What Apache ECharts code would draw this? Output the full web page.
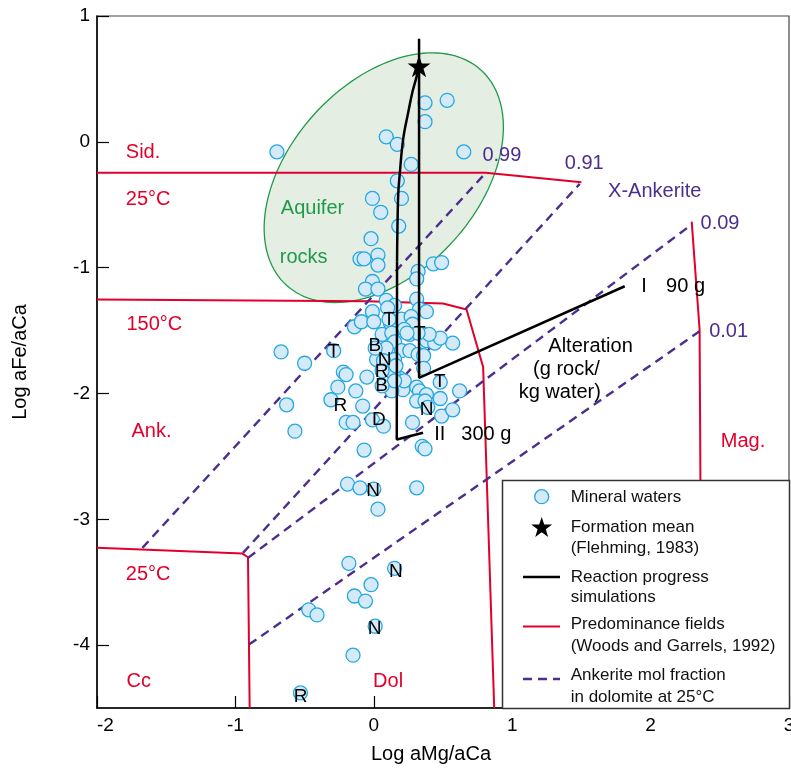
<!DOCTYPE html>
<html><head><meta charset="utf-8">
<script src="https://cdn.jsdelivr.net/npm/echarts@6/dist/echarts.min.js"></script>
<style>html,body{margin:0;padding:0;background:#fff}#c{width:791px;height:770px}</style>
</head><body><div id="c"></div><script>
// ---------- data (data units: x = Log aMg/aCa, y = Log aFe/aCa) ----------
const xTicks = [-2, -1, 0, 1, 2, 3];
const yTicks = [-4, -3, -2, -1, 0, 1];

const mineralWaters = [
  [0.37,0.31],[0.53,0.33],[0.37,0.16],[0.09,0.04],[0.17,-0.02],[-0.70,-0.08],[0.65,-0.08],[0.27,-0.18],
  [0.17,-0.31],[-0.01,-0.45],[0.20,-0.45],[0.05,-0.56],[0.18,-0.67],[-0.02,-0.77],[-0.10,-0.93],[-0.07,-0.93],
  [0.03,-0.90],[0.03,-0.98],[-0.01,-1.11],[-0.06,-1.17],[0.03,-1.17],[0.32,-1.03],[0.31,-1.09],[0.43,-0.97],
  [0.49,-0.96],[0.09,-1.26],[0.31,-1.25],[0.15,-1.30],[0.10,-1.32],[0.33,-1.33],[0.38,-1.35],[-0.01,-1.35],
  [-0.14,-1.47],[-0.09,-1.43],[0.00,-1.43],[0.12,-1.44],[0.20,-1.41],[0.27,-1.39],[0.28,-1.45],[0.22,-1.49],
  [0.06,-1.53],[0.13,-1.52],[0.26,-1.53],[0.36,-1.53],[0.38,-1.58],[0.44,-1.60],[0.57,-1.60],[0.15,-1.59],
  [0.09,-1.64],[0.20,-1.66],[0.26,-1.66],[0.32,-1.69],[0.36,-1.70],[0.02,-1.73],[0.15,-1.73],[0.36,-1.80],
  [-0.22,-1.83],[-0.05,-1.87],[0.19,-1.88],[-0.67,-1.67],[-0.50,-1.76],[-0.29,-1.66],[-0.20,-1.85],[-0.26,-1.95],
  [-0.13,-1.98],[-0.31,-2.05],[-0.63,-2.09],[-0.08,-2.10],[-0.20,-2.23],[-0.15,-2.23],[-0.01,-2.21],[0.07,-2.26],
  [-0.57,-2.30],[-0.07,-2.45],[0.28,-2.23],[0.35,-2.42],[0.37,-2.44],[0.49,-2.18],[0.57,-2.13],[0.48,-2.04],
  [0.62,-1.98],[0.21,-1.97],[0.31,-1.95],[0.33,-1.98],[0.38,-2.01],[0.31,-2.06],[0.37,-2.06],[0.13,-1.98],
  [0.22,-1.90],[0.14,-1.84],[0.39,-2.11],[0.07,-1.74],[0.01,-1.64],[0.48,-1.56],[0.40,-1.53],[0.32,-1.52],
  [0.24,-1.52],[0.16,-1.78],[0.15,-1.90],[0.11,-1.41],[0.06,-1.82],[0.06,-1.94],[0.48,-1.91],
  [-0.19,-2.72],[-0.10,-2.75],[0.00,-2.76],[0.31,-2.75],[0.03,-2.92],[-0.18,-3.35],[0.15,-3.39],[-0.02,-3.52],
  [-0.14,-3.61],[-0.06,-3.65],[-0.47,-3.72],[-0.41,-3.76],[0.01,-3.85],[-0.15,-4.08],[-0.53,-4.38]
];
const formationMean = [[0.327, 0.601]];

// Reaction progress simulations
const reactionI = [[0.327,0.82],[0.327,-1.876],[1.813,-1.148]];
const reactionIIcurve = [[0.327,0.60],[0.31,0.52],[0.28,0.40],[0.248,0.23],[0.212,0.02],[0.188,-0.25],[0.176,-0.43],[0.168,-0.95]];
const reactionIIlow = [[0.168,-0.95],[0.166,-2.366],[0.356,-2.313]];

// Predominance fields (Woods and Garrels, 1992)
const sid25 = [[-2,-0.246],[0.809,-0.246],[1.50,-0.321]];
const ank150 = [[-2,-1.254],[-0.05,-1.267],[0.50,-1.285],[0.67,-1.333],[0.79,-1.79],[0.87,-4.5]];
const mag = [[2.297,-0.634],[2.354,-1.492],[2.369,-4.5]];
const cc25 = [[-2,-3.227],[-0.949,-3.273],[-0.909,-3.302],[-0.897,-4.5]];

// Ankerite mol fraction in dolomite at 25 C
const ank099 = [[-1.672,-3.227],[0.809,-0.246]];
const ank091 = [[-0.945,-3.267],[1.488,-0.334]];
const ank009 = [[-0.909,-3.307],[2.297,-0.657]];
const ank001 = [[-0.902,-3.996],[2.354,-1.506]];

// Aquifer rocks field (centre in data units; semi-axes in x-units; tilt in degrees)
const aquiferCentre = [[0.072, -0.285]];
const aquiferAxes = [1.048, 0.68];
const aquiferTilt = 48;

// Text annotations [text, x, y]
const redLabels = [['Sid.',-1.792,-0.087],['25°C',-1.792,-0.459],['150°C',-1.787,-1.452],['Ank.',-1.751,-2.30],
  ['25°C',-1.792,-3.44],['Cc',-1.787,-4.288],['Dol',-0.005,-4.288],['Mag.',2.507,-2.38]];
const greenLabels = [['Aquifer',-0.672,-0.53],['rocks',-0.679,-0.92]];
const purpleLabels = [['0.99',0.785,-0.105],['0.91',1.38,-0.174],['X-Ankerite',1.693,-0.397],['0.09',2.361,-0.649],['0.01',2.423,-1.51]];
const blackLeftLabels = [['I',1.933,-1.146],['90 g',2.112,-1.146],['II',0.437,-2.33],['300 g',0.632,-2.33]];
const blackCenterLabels = [['Alteration',1.566,-1.623],['(g rock/',1.392,-1.81],['kg water)',1.344,-1.994]];
const sampleCodes = [['T',-0.29,-1.665],['T',0.11,-1.413],['T',0.332,-1.526],['B',0.007,-1.619],['N',0.079,-1.73],
  ['R',0.056,-1.824],['B',0.056,-1.937],['R',-0.241,-2.094],['D',0.036,-2.207],['N',0.381,-2.128],['T',0.477,-1.911],
  ['N',-0.005,-2.777],['N',0.159,-3.421],['N',0.005,-3.871],['R',-0.529,-4.412]];

// ---------- styles ----------
const FONT = '"Liberation Sans", Arial, sans-serif';
const RED = '#e2002b', PURPLE = '#4b2e8e', GREEN = '#1f9a4a', GREENFILL = '#e4eee3';
const DOTFILL = '#d4eaf9', DOTSTROKE = '#25a7e0';
const STAR = 'path://M0,-100 L22.5,-30.9 L95.1,-30.9 L36.3,11.8 L58.8,80.9 L0,38.2 L-58.8,80.9 L-36.3,11.8 L-95.1,-30.9 L-22.5,-30.9 Z';

function lineSeries(data, color, width, dash, z, smooth) {
  return { type: 'line', data, symbol: 'none', smooth: smooth || false, silent: true, z,
    lineStyle: { color, width, type: dash ? [9, 6] : 'solid', cap: 'butt' }, animation: false };
}
function textSeries(items, color, align, size, z) {
  return { type: 'custom', silent: true, z, animation: false,
    data: items.map(d => [d[1], d[2]]), encode: { x: 0, y: 1 },
    renderItem: (params, api) => {
      const p = api.coord([api.value(0), api.value(1)]);
      return { type: 'text', x: p[0], y: p[1],
        style: { text: items[params.dataIndex][0], fill: color, font: size + 'px ' + FONT, align, verticalAlign: 'middle' } };
    } };
}

const chart = echarts.init(document.getElementById('c'), null, { renderer: 'canvas' });

// legend star
const starPts = [];
for (let i = 0; i < 10; i++) {
  const r = i % 2 === 0 ? 11 : 4.3, a = -Math.PI / 2 + i * Math.PI / 5;
  starPts.push([541.7 + r * Math.cos(a), 528 + r * Math.sin(a)]);
}
const legendTxt = (t, y) => ({ type: 'text', x: 570.7, y, z: 101,
  style: { text: t, font: '17px ' + FONT, fill: '#111', verticalAlign: 'middle', align: 'left' } });

chart.setOption({
  animation: false,
  grid: { left: 97, right: 2, top: 16, bottom: 62, show: true, containLabel: false, outerBoundsMode: 'none',
    borderColor: '#444', borderWidth: 1.2, backgroundColor: 'transparent' },
  xAxis: { type: 'value', min: -2, max: 3, interval: 1, splitLine: { show: false },
    axisLine: { show: true, onZero: false, lineStyle: { color: '#000', width: 1.5 } },
    axisTick: { show: true, inside: true, length: 12, lineStyle: { color: '#000', width: 1.2 } },
    axisLabel: { fontSize: 19, fontFamily: FONT, color: '#000', margin: 8, alignMinLabel: 'left', formatter: v => xTicks.includes(v) ? String(v) : '' } },
  yAxis: { type: 'value', min: -4.5, max: 1, splitLine: { show: false },
    axisLine: { show: true, onZero: false, lineStyle: { color: '#000', width: 1.5 } },
    axisTick: { show: true, inside: true, length: 12, customValues: yTicks, lineStyle: { color: '#000', width: 1.2 } },
    axisLabel: { fontSize: 19, fontFamily: FONT, color: '#000', margin: 7, customValues: yTicks } },
  series: [
    { type: 'custom', z: 1, silent: true, data: aquiferCentre, encode: { x: 0, y: 1 },
      renderItem: (params, api) => {
        const c = api.coord([api.value(0), api.value(1)]);
        const s = api.size([1, 1]);
        const a = aquiferAxes[0] * s[0], b = aquiferAxes[1] * s[0];
        const t = aquiferTilt * Math.PI / 180;
        const pts = [];
        for (let i = 0; i < 144; i++) {
          const th = i / 144 * 2 * Math.PI, ex = a * Math.cos(th), ey = b * Math.sin(th);
          pts.push([c[0] + ex * Math.cos(t) - ey * Math.sin(t), c[1] - ex * Math.sin(t) - ey * Math.cos(t)]);
        }
        return { type: 'polygon', shape: { points: pts }, style: { fill: GREENFILL, stroke: GREEN, lineWidth: 1.3 } };
      } },
    lineSeries(sid25, RED, 2, false, 2),
    lineSeries(ank150, RED, 2, false, 2),
    lineSeries(mag, RED, 2, false, 2),
    lineSeries(cc25, RED, 2, false, 2),
    lineSeries(ank099, PURPLE, 2.4, true, 3),
    lineSeries(ank091, PURPLE, 2.4, true, 3),
    lineSeries(ank009, PURPLE, 2.4, true, 3),
    lineSeries(ank001, PURPLE, 2.4, true, 3),
    { type: 'scatter', data: mineralWaters, z: 4, symbol: 'circle', symbolSize: 14, silent: true,
      itemStyle: { color: DOTFILL, borderColor: DOTSTROKE, borderWidth: 1.3, opacity: 1 } },
    lineSeries(reactionI, '#000', 2.5, false, 5),
    lineSeries(reactionIIcurve, '#000', 2.5, false, 5, 0.4),
    lineSeries(reactionIIlow, '#000', 2.5, false, 5),
    { type: 'scatter', data: formationMean, z: 6, symbol: STAR, symbolSize: [23, 22], silent: true,
      itemStyle: { color: '#000', opacity: 1 } },
    textSeries(sampleCodes, '#000', 'center', 19, 7),
    textSeries(redLabels, RED, 'left', 20, 7),
    textSeries(greenLabels, GREEN, 'left', 20, 7),
    textSeries(purpleLabels, PURPLE, 'left', 20, 7),
    textSeries(blackLeftLabels, '#000', 'left', 20, 7),
    textSeries(blackCenterLabels, '#000', 'center', 20, 7)
  ],
  graphic: [
    { type: 'text', x: 431, y: 754, z: 50, style: { text: 'Log aMg/aCa', font: '20px ' + FONT, fill: '#000', align: 'center', verticalAlign: 'middle' } },
    { type: 'text', x: 20, y: 362, rotation: Math.PI / 2, z: 50, style: { text: 'Log aFe/aCa', font: '20px ' + FONT, fill: '#000', align: 'center', verticalAlign: 'middle' } },
    { type: 'rect', z: 100, shape: { x: 502.5, y: 480.5, width: 287, height: 228 }, style: { fill: '#fff', stroke: '#333', lineWidth: 1.5 } },
    { type: 'circle', z: 101, shape: { cx: 541.7, cy: 496.7, r: 7 }, style: { fill: DOTFILL, stroke: DOTSTROKE, lineWidth: 1.3 } },
    { type: 'polygon', z: 101, shape: { points: starPts }, style: { fill: '#000' } },
    { type: 'line', z: 101, shape: { x1: 523, y1: 577, x2: 560, y2: 577 }, style: { stroke: '#000', lineWidth: 2.5 } },
    { type: 'line', z: 101, shape: { x1: 523, y1: 626.5, x2: 560, y2: 626.5 }, style: { stroke: RED, lineWidth: 2 } },
    { type: 'line', z: 101, shape: { x1: 523, y1: 679, x2: 560, y2: 679 }, style: { stroke: PURPLE, lineWidth: 2.4, lineDash: [9, 6] } },
    legendTxt('Mineral waters', 497),
    legendTxt('Formation mean', 527),
    legendTxt('(Flehming, 1983)', 548.5),
    legendTxt('Reaction progress', 577),
    legendTxt('simulations', 597.5),
    legendTxt('Predominance fields', 624.5),
    legendTxt('(Woods and Garrels, 1992)', 646),
    legendTxt('Ankerite mol fraction', 675.5),
    legendTxt('in dolomite at 25°C', 697)
  ]
});
</script></body></html>
